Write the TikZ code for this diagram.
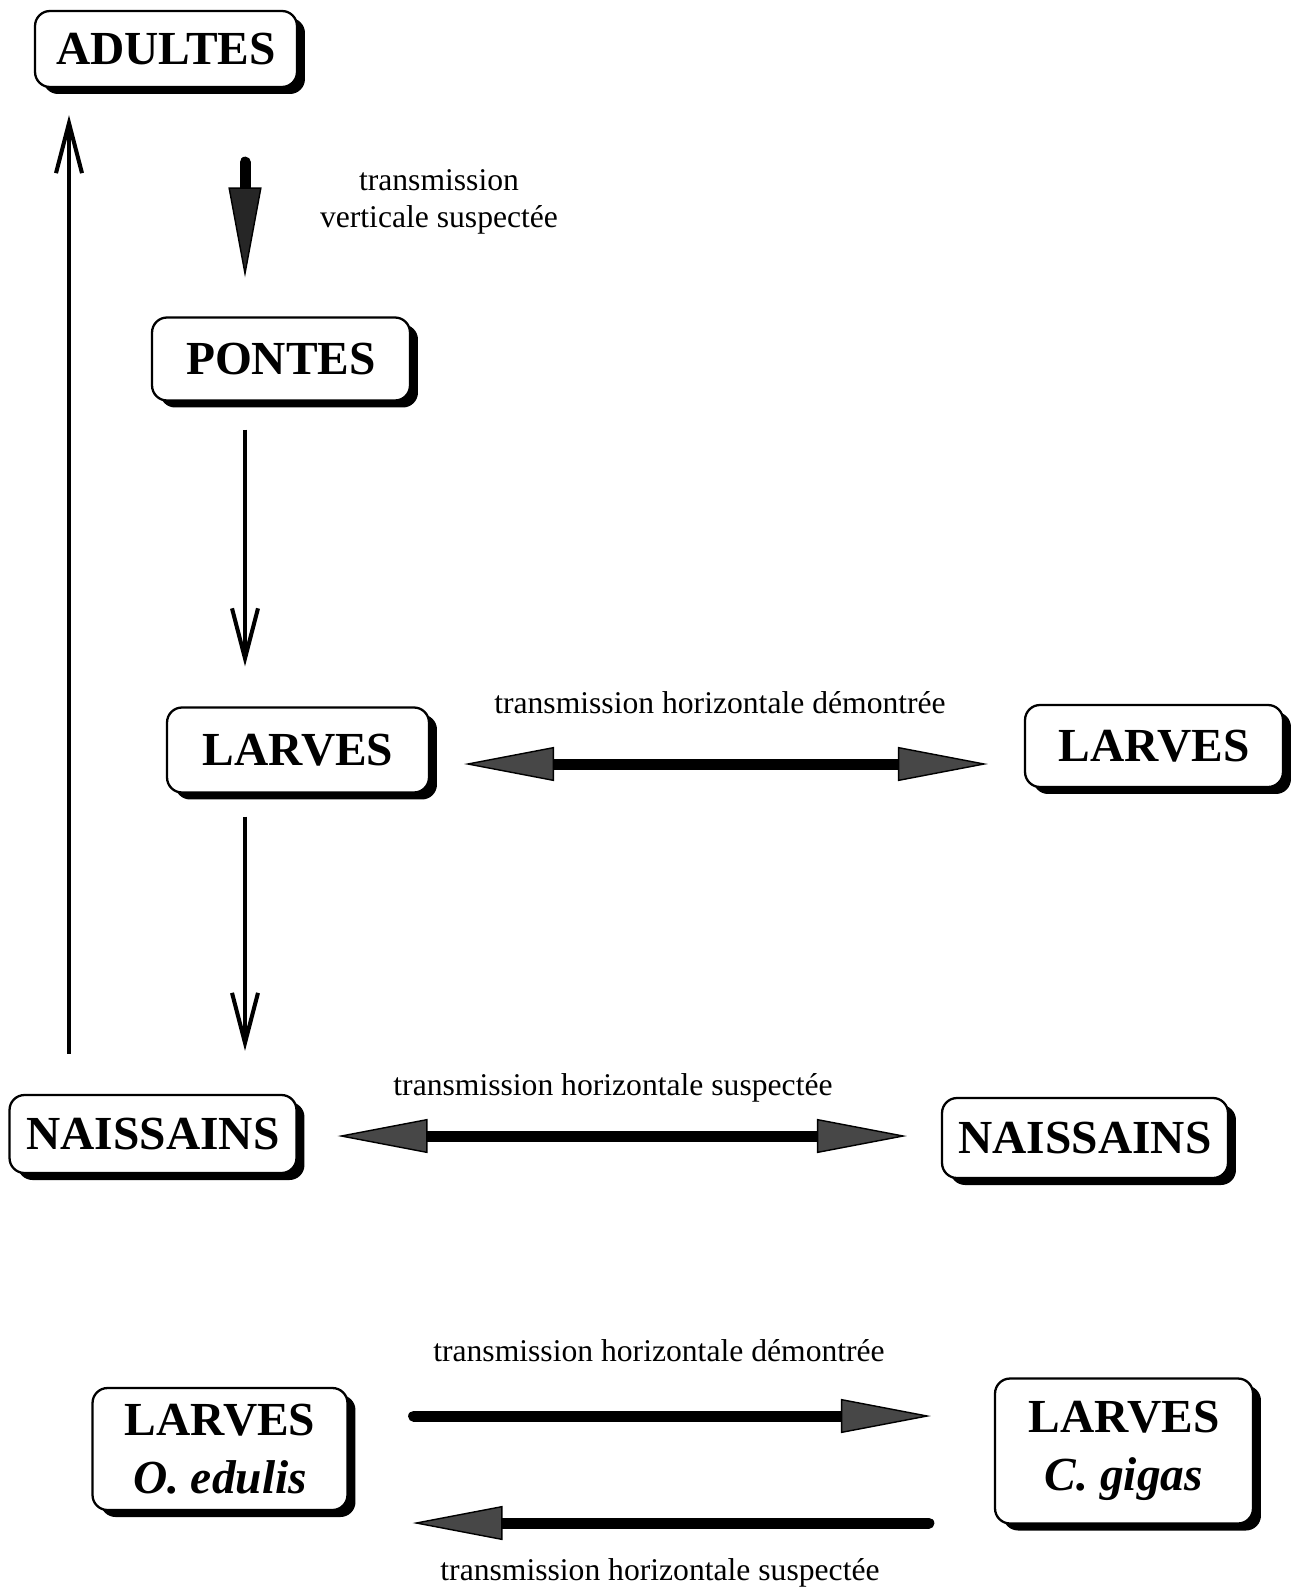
\documentclass[tikz,border=0pt]{standalone}
\usepackage{fontspec}
\setmainfont{Liberation Serif}
\usetikzlibrary{arrows.meta,shadows}

\begin{document}
\begin{tikzpicture}[x=0.02cm,y=-0.02cm]
	\tikzset{
	stage/.style={draw,line width=1.3pt,rounded corners=0.3cm,fill=white,
		drop shadow={shadow xshift=0.16cm,shadow yshift=-0.14cm,fill=black,opacity=1},
		font=\bfseries\fontsize{27}{33}\selectfont,align=center,inner sep=0pt},
	lbl/.style={font=\fontsize{18}{21}\selectfont,align=center,inner sep=0pt},
	bigtip/.tip={Triangle[length=1.8cm,width=0.68cm,line width=0.8pt,fill=black!72]},
	darktip/.tip={Triangle[length=1.8cm,width=0.66cm,line width=0.8pt,fill=black!85]},
	vtip/.tip={Straight Barb[length=1cm,width=0.52cm]},
	cycle arrow/.style={line width=2.3pt,-vtip},
	transfer/.style={line width=0.22cm},
	}
	\useasboundingbox (0,0) rectangle (1296,1591);

	%STAGES
	\node[stage,minimum width=5.24cm,minimum height=1.52cm] (adultes) at (166,49) {ADULTES};
	\node[stage,minimum width=5.16cm,minimum height=1.66cm] (pontes) at (281,359) {PONTES};
	\node[stage,minimum width=5.24cm,minimum height=1.7cm] (larvesA) at (298,750) {LARVES};
	\node[stage,minimum width=5.16cm,minimum height=1.64cm] (larvesB) at (1154,746) {LARVES};
	\node[stage,minimum width=5.74cm,minimum height=1.56cm] (naisA) at (153,1134) {NAISSAINS};
	\node[stage,minimum width=5.72cm,minimum height=1.6cm] (naisB) at (1085,1138) {NAISSAINS};
	\node[stage,minimum width=5.1cm,minimum height=2.44cm] (larvesO) at (220,1449) {LARVES\\\textit{O. edulis}};
	\node[stage,minimum width=5.16cm,minimum height=2.9cm] (larvesC) at (1124,1451) {LARVES\\\textit{C. gigas}};

	\coordinate (upx) at (69,0);
	\coordinate (vx) at (245,0);
	\coordinate (hl) at (0,764);
	\coordinate (hn) at (0,1136);
	\coordinate (ht) at (0,1416);
	\coordinate (hb) at (0,1523);

	%CYCLE
	\draw[cycle arrow,shorten <=0.8cm,shorten >=0.54cm] (naisA.north -| upx) -- (adultes.south -| upx);
	\draw[transfer,line cap=round,-darktip,shorten <=1.48cm,shorten >=0.78cm] (adultes.south -| vx) -- (pontes.north -| vx);
	\draw[cycle arrow,shorten <=0.56cm,shorten >=0.8cm] (pontes.south -| vx) -- (larvesA.north -| vx);
	\draw[cycle arrow,shorten <=0.46cm,shorten >=0.86cm] (larvesA.south -| vx) -- (naisA.north -| vx);

	\node[lbl] (lblV) at (439,202) {transmission\\verticale suspectée};

	%HORIZONTAL
	\draw[transfer,bigtip-bigtip,shorten <=0.68cm,shorten >=0.72cm] (larvesA.east |- hl) -- (larvesB.west |- hl);
	\node[lbl] (lblL) at (720,703) {transmission horizontale démontrée};

	\draw[transfer,bigtip-bigtip,shorten <=0.8cm,shorten >=0.68cm] (naisA.east |- hn) -- (naisB.west |- hn);
	\node[lbl] (lblN) at (613,1088) {transmission horizontale suspectée};

	%O. EDULIS / C. GIGAS
	\draw[transfer,line cap=round,-bigtip,shorten <=1.3cm,shorten >=1.26cm] (larvesO.east |- ht) -- (larvesC.west |- ht);
	\node[lbl] (lblT) at (659,1351) {transmission horizontale démontrée};
	\draw[transfer,line cap=round,-bigtip,shorten <=1.3cm,shorten >=1.28cm] (larvesC.west |- hb) -- (larvesO.east |- hb);
	\node[lbl] (lblB) at (660,1573) {transmission horizontale suspectée};
\end{tikzpicture}
\end{document}
